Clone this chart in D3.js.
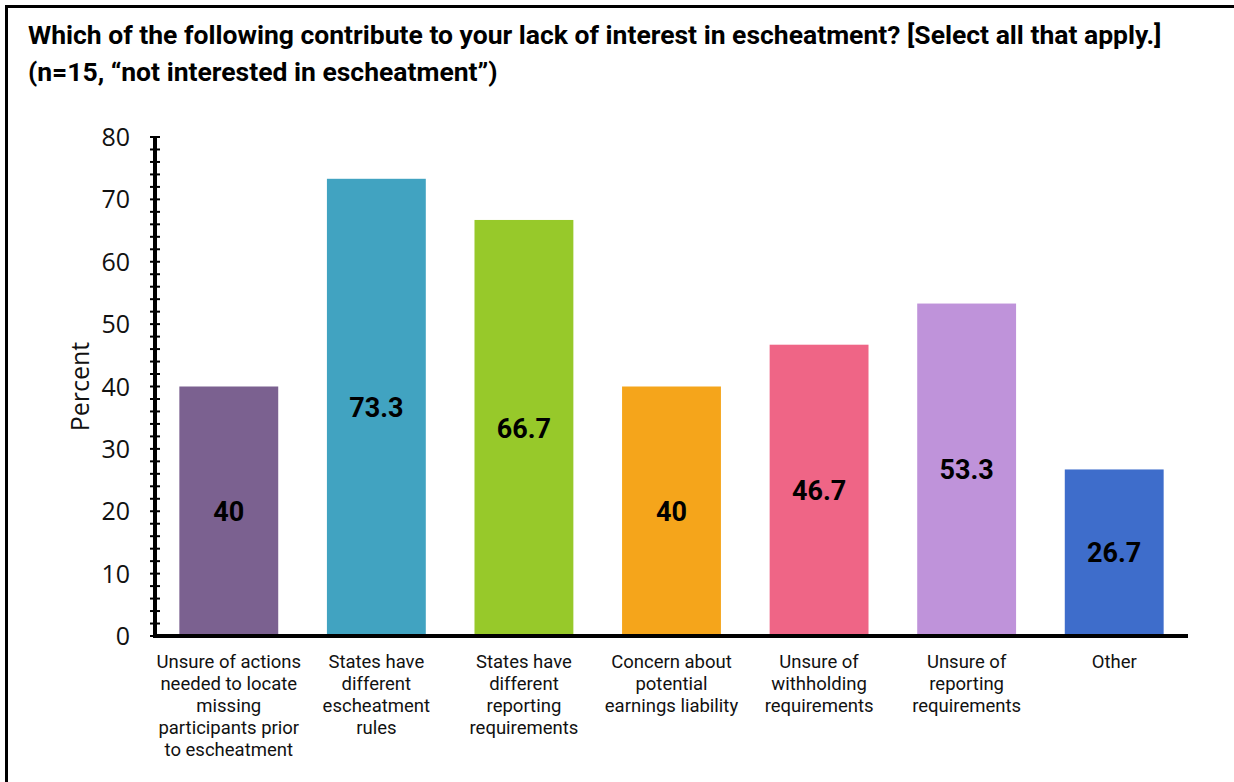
<!DOCTYPE html>
<html>
<head>
<meta charset="utf-8">
<script src="https://cdn.jsdelivr.net/npm/d3@7"></script>
<style>
  body { margin: 0; background: #fff; }
</style>
</head>
<body>
<div id="chart"></div>
<script>
// data
const categories = [
  ["Unsure of actions", "needed to locate", "missing", "participants prior", "to escheatment"],
  ["States have", "different", "escheatment", "rules"],
  ["States have", "different", "reporting", "requirements"],
  ["Concern about", "potential", "earnings liability"],
  ["Unsure of", "withholding", "requirements"],
  ["Unsure of", "reporting", "requirements"],
  ["Other"]
];
const values = [40, 73.3, 66.7, 40, 46.7, 53.3, 26.7];
const valueLabels = ["40", "73.3", "66.7", "40", "46.7", "53.3", "26.7"];
const colors = ["#7b6190", "#41a3c1", "#97c92a", "#f5a51b", "#ef6586", "#bf93da", "#3e6dcb"];
const yTicks = [0, 10, 20, 30, 40, 50, 60, 70, 80];
const titleLines = [
  "Which of the following contribute to your lack of interest in escheatment? [Select all that apply.]",
  "(n=15, \u201cnot interested in escheatment\u201d)"
];

const W = 1234, H = 782;
const plot = { left: 155, right: 1188, top: 137, bottom: 636 };

const svg = d3.select("#chart").append("svg")
    .attr("width", W)
    .attr("height", H);

// frame
svg.append("rect")
    .attr("x", 6.5).attr("y", 6.5)
    .attr("width", W).attr("height", H)
    .attr("fill", "none")
    .attr("stroke", "#000")
    .attr("stroke-width", 3);

// title
svg.append("g").selectAll("text")
    .data(titleLines)
    .enter().append("text")
    .attr("x", 28)
    .attr("y", (d, i) => 44 + i * 37)
    .style("font-family", "Roboto")
    .style("font-weight", "bold")
    .style("font-size", "26.5px")
    .text(d => d);

const x = d3.scaleBand()
    .domain(d3.range(values.length))
    .range([plot.left, plot.right])
    .paddingInner(0.33)
    .paddingOuter(0.165);

const y = d3.scaleLinear()
    .domain([0, 80])
    .range([plot.bottom, plot.top]);

// bars
svg.selectAll(".bar")
    .data(values)
    .enter().append("rect")
    .attr("class", "bar")
    .attr("x", (d, i) => x(i))
    .attr("width", x.bandwidth())
    .attr("y", d => y(d))
    .attr("height", d => y(0) - y(d))
    .attr("fill", (d, i) => colors[i]);

// value labels (in middle of bar)
svg.selectAll(".val")
    .data(values)
    .enter().append("text")
    .attr("class", "val")
    .attr("x", (d, i) => x(i) + x.bandwidth() / 2)
    .attr("y", d => y(d / 2))
    .attr("dy", "0.36em")
    .attr("text-anchor", "middle")
    .style("font-family", "Roboto")
    .style("font-weight", "bold")
    .style("font-size", "27px")
    .text((d, i) => valueLabels[i]);

// y axis: minor ticks every 2
const minor = d3.range(0, 81, 2);
const yAxis = svg.append("g");
yAxis.selectAll(".minor")
    .data(minor)
    .enter().append("line")
    .attr("x1", plot.left - 5)
    .attr("x2", plot.left + 5)
    .attr("y1", d => y(d))
    .attr("y2", d => y(d))
    .attr("stroke", "#000")
    .attr("stroke-width", 2);
yAxis.append("line")
    .attr("x1", plot.left).attr("x2", plot.left)
    .attr("y1", y(80)).attr("y2", y(0) + 1.5)
    .attr("stroke", "#000")
    .attr("stroke-width", 4);
yAxis.selectAll(".tick-label")
    .data(yTicks)
    .enter().append("text")
    .attr("class", "tick-label")
    .attr("x", plot.left - 25)
    .attr("y", d => y(d))
    .attr("dy", "0.36em")
    .attr("text-anchor", "end")
    .style("font-family", "Open Sans")
    .style("font-size", "25px")
    .style("fill", "#111")
    .text(d => d);

// y title
svg.append("text")
    .attr("transform", `translate(89, ${(plot.top + plot.bottom) / 2}) rotate(-90)`)
    .attr("text-anchor", "middle")
    .style("font-family", "Open Sans")
    .style("font-size", "25px")
    .style("fill", "#111")
    .text("Percent");

// x axis line
svg.append("line")
    .attr("x1", plot.left - 2).attr("x2", plot.right)
    .attr("y1", plot.bottom).attr("y2", plot.bottom)
    .attr("stroke", "#000")
    .attr("stroke-width", 4);

// category labels
const cat = svg.selectAll(".cat")
    .data(categories)
    .enter().append("text")
    .attr("class", "cat")
    .attr("text-anchor", "middle")
    .style("font-family", "Roboto")
    .style("font-size", "18.5px")
    .style("fill", "#111");
cat.selectAll("tspan")
    .data((d, i) => d.map(line => ({ line, i })))
    .enter().append("tspan")
    .attr("x", d => x(d.i) + x.bandwidth() / 2)
    .attr("y", (d, j) => 668 + j * 22)
    .text(d => d.line);
</script>
</body>
</html>
